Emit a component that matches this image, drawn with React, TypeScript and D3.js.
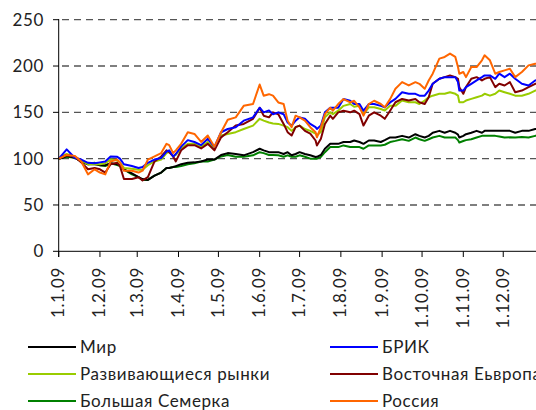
import React from "react";
import * as d3 from "d3";

// day offsets from 1 Jan 2009
const days: number[] = [
  0, 3, 6, 12, 17, 22, 27, 31, 35, 39, 44, 46, 49, 55, 60, 63, 67, 72, 77, 81, 83, 86, 88, 92, 97, 102, 107, 112, 117, 122, 127,
  133, 139, 146, 151, 154, 158, 161, 165, 169, 172, 175, 178, 181, 185, 189, 193, 194, 197, 200, 204, 206, 210, 214, 219, 222, 226, 229, 233, 237, 242, 245, 249,
  253, 258, 263, 268, 271, 275, 278, 281, 286, 290, 294, 298, 300, 301, 304, 306, 310, 314, 318, 320, 324, 328, 331, 335, 339, 343, 348, 353, 358, 364,
];

const mir: number[] = [
  100, 101, 103, 101, 97, 94, 94, 93, 93, 95, 94, 93, 88.5, 84, 80, 78, 77, 81.6, 85, 90, 90, 91, 92, 94, 95.5, 96, 97, 99, 99, 104, 106,
  105, 103.6, 107, 110.7, 109, 107, 107, 107, 105, 107, 103.6, 105, 107, 105, 103.6, 101.8, 102, 104, 110.7, 116, 116, 116, 118, 118, 119.6, 118, 116, 119.6, 119.6, 118, 120, 122.9,
  122.8, 124.6, 122.8, 126.4, 124.6, 122.8, 124.6, 128, 130, 128, 130, 128, 126, 122.8, 124.6, 126.4, 128, 130, 128, 130, 130, 130, 130, 130, 130, 128, 130, 130, 132, 132,
];
const bric: number[] = [
  100, 105, 110, 101, 99, 95.5, 95, 96, 97, 102.4, 102, 100, 94, 92, 90, 91, 95.5, 99, 100.7, 107.6, 109, 102.4, 105, 113, 120, 118, 114.6, 121.5, 112.8, 128.5, 132,
  134, 141, 144.6, 155, 150, 152, 148, 150, 148, 139, 135.7, 141, 144.6, 143, 137.5, 134, 132, 135.7, 150, 155, 155, 155, 164.3, 162.5, 159, 159, 151.8, 159, 159, 157, 155.4, 160.7,
  164.5, 171.7, 170, 170, 168, 168, 173.5, 180.8, 186.2, 188, 188, 188, 182.6, 173.5, 173.5, 177.2, 180.8, 184.4, 188, 189.9, 189.9, 186.2, 191.7, 188, 191.7, 186.2, 180.8, 179, 184.4, 186,
];
const em: number[] = [
  100, 103, 105, 102, 98, 94, 94, 94, 95, 99, 98, 96, 90, 89, 88, 88, 93, 97, 99, 106, 107, 102.4, 104, 111, 116, 116, 112.8, 118, 111, 125, 126.7,
  128.6, 132, 135.7, 143, 141, 139, 138, 137.5, 135.7, 134, 130, 134, 135.7, 132, 130, 127, 125, 129, 144.6, 150, 148, 151.8, 157, 159, 156, 157, 148, 155.4, 155.4, 153.6, 152, 157,
  157, 162.7, 160.9, 160.9, 159, 162.7, 166.3, 168, 170, 170, 171.7, 170, 168, 160.9, 160.9, 162.7, 164.5, 166.3, 168, 170, 168, 170, 173.5, 171.7, 170, 168, 168, 170, 173.5, 174,
];
const eeur: number[] = [
  100, 102, 104, 102, 96, 88.5, 90, 88.5, 85, 94, 95.5, 92, 78, 78, 80, 76.5, 80, 97, 102.4, 109, 107, 102.4, 97, 109, 114.6, 114.6, 111, 116, 109, 123, 128.5,
  135.7, 137.5, 143, 155, 146.4, 144.6, 150, 148, 137.5, 128.6, 125, 134, 135.7, 130, 127, 119.6, 114.3, 121.4, 137.5, 146.4, 143, 150, 151.8, 150, 151.8, 148, 135.7, 146.4, 150, 146.4, 143, 151.8,
  160.9, 164.5, 162.7, 164.5, 160.9, 159, 166.3, 180.8, 186.2, 188, 189.9, 188, 186.2, 177.2, 170, 177.2, 186.2, 188, 184.4, 186.2, 188, 177.2, 180.8, 179, 182.6, 171.7, 173.5, 177.2, 180.8, 182,
];
const g7: number[] = [
  100, 101, 102, 101, 97, 94, 95.5, 93, 92, 95, 93, 92, 88.5, 83, 80, 77, 77, 81.6, 85, 90, 90, 91, 91, 92, 94, 95, 97, 97, 99, 102.4, 104,
  102, 102, 103.6, 107, 106, 104, 104, 103.6, 102, 103.6, 102, 102, 103.6, 102, 100, 100, 100, 102, 107, 112.5, 112.5, 112.5, 114.3, 112.5, 112.5, 112.5, 110.7, 114.3, 114.3, 114.3, 115, 117.9,
  119.2, 121, 119.2, 122.8, 121, 119.2, 121, 122.8, 124.6, 122.8, 122.8, 122.8, 120, 117.4, 119, 120, 121, 122.8, 124.6, 124.6, 124.6, 124.6, 124, 122.8, 123, 122.8, 123.5, 122.8, 124.6, 124.6,
];
const russia: number[] = [
  100, 102, 104, 103, 97, 83, 88.5, 85, 83, 97, 99, 96, 87, 87, 85, 87, 99, 102.4, 106, 116, 114.6, 106, 109, 116, 128.5, 126.7, 118, 125, 112.8, 128.5, 142,
  144.6, 157, 159, 180, 168, 169.6, 168, 160.7, 159, 141, 134, 146.4, 144.6, 141, 134, 128.6, 123, 134, 148, 155, 151.8, 159, 164.3, 160.7, 162.5, 155.4, 146.4, 159, 162.5, 159, 155.4, 164.3,
  175.4, 182.6, 179, 182.6, 180.8, 175.4, 184.4, 191.7, 208, 209.8, 213.4, 209.8, 198.9, 191.7, 193.5, 188, 198.9, 198.9, 206.2, 211.6, 206.2, 191.7, 193.5, 195.3, 197.1, 188, 193.5, 200.7, 202.5, 203,
];

const yTicks: number[] = [0, 50, 100, 150, 200, 250];
const xTickLabels: string[] = ["1.1.09", "1.2.09", "1.3.09", "1.4.09", "1.5.09", "1.6.09", "1.7.09", "1.8.09", "1.9.09", "1.10.09", "1.11.09", "1.12.09"];

const seriesNames: string[] = ["Мир", "БРИК", "Развивающиеся рынки", "Восточная Еьвропа", "Большая Семерка", "Россия"];
const seriesColors: string[] = ["#000000", "#0000ff", "#99cc00", "#800000", "#008000", "#ff6600"];
const seriesData: number[][] = [mir, bric, em, eeur, g7, russia];

const W = 536;
const H = 410;
const FONT = "Lato, 'DejaVu Sans', sans-serif";

export default function App() {
  const start = new Date(2009, 0, 1);
  const dayToDate = (d: number) => d3.timeDay.offset(start, d);
  const x = d3.scaleTime().domain([start, new Date(2010, 0, 1)]).range([58.7, 544.5]);
  const y = d3.scaleLinear().domain([0, 250]).range([251.3, 19.7]);
  const drawOrder = [4, 0, 2, 3, 1, 5];
  const line = (vals: number[]) =>
    d3.line<number>()
      .x((_, i) => x(dayToDate(days[i])))
      .y((v) => y(v))(vals) || "";
  const xTickDates = xTickLabels.map((_, i) => new Date(2009, i, 1));
  return (
    <svg width={W} height={H} style={{ position: "absolute", left: 0, top: 0, background: "#fff" }}>
      <defs>
        <clipPath id="plot">
          <rect x={58} y={0} width={W - 58} height={252} />
        </clipPath>
      </defs>
      {yTicks.map((t) => (
        <g key={t}>
          {t > 0 && (
            <line x1={59} x2={W} y1={y(t)} y2={y(t)} stroke="#555" strokeWidth={1.3} strokeDasharray="7,5" strokeDashoffset={-3} />
          )}
          <line x1={53} x2={59} y1={y(t)} y2={y(t)} stroke="#000" strokeWidth={1} />
          <text x={44} y={y(t)} dy="0.35em" textAnchor="end" fontFamily={FONT} fontSize={17} letterSpacing={0.6} fill="#222">
            {t}
          </text>
        </g>
      ))}
      <g clipPath="url(#plot)">
        {drawOrder.map((si) => (
          <path key={si} d={line(seriesData[si])} fill="none" stroke={seriesColors[si]} strokeWidth={2} strokeLinejoin="round" />
        ))}
      </g>
      <line x1={58.7} x2={58.7} y1={19} y2={257} stroke="#000" strokeWidth={1} />
      <line x1={58.7} x2={W} y1={251.3} y2={251.3} stroke="#000" strokeWidth={1} />
      {xTickDates.map((d, i) => (
        <g key={i}>
          <line x1={x(d)} x2={x(d)} y1={251.3} y2={257} stroke="#000" strokeWidth={1} />
          <text
            transform={`translate(${x(d) + 5.5},${267}) rotate(-90)`}
            textAnchor="end"
            fontFamily={FONT}
            fontSize={17}
            letterSpacing={0.6}
            fill="#222"
          >
            {xTickLabels[i]}
          </text>
        </g>
      ))}
      {seriesNames.map((name, i) => {
        const col = i % 2;
        const row = Math.floor(i / 2);
        const lx = col === 0 ? 28 : 330;
        const ly = 347 + row * 27;
        return (
          <g key={name}>
            <line x1={lx} x2={lx + 48} y1={ly} y2={ly} stroke={seriesColors[i]} strokeWidth={2} />
            <text x={lx + 52} y={ly} dy="0.35em" fontFamily={FONT} fontSize={17} letterSpacing={0.6} fill="#222">
              {name}
            </text>
          </g>
        );
      })}
    </svg>
  );
}
